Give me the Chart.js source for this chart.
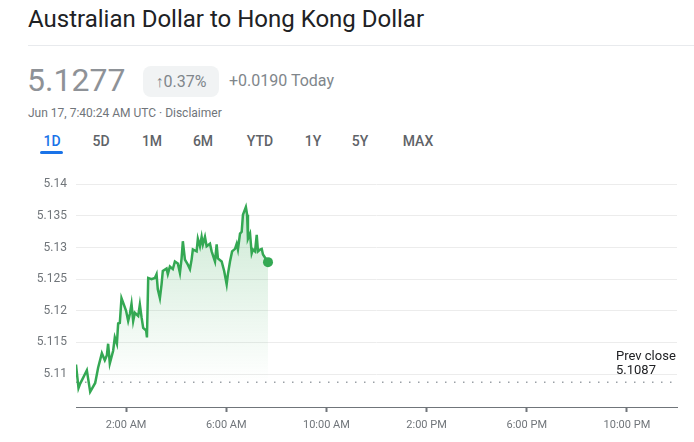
<!DOCTYPE html>
<html>
<head>
<meta charset="utf-8">
<script src="https://cdn.jsdelivr.net/npm/chart.js@4.4.1/dist/chart.umd.min.js"></script>
<style>
  body { margin: 0; background: #fff; font-family: Roboto, Arial, sans-serif; width: 694px; height: 442px; overflow: hidden; position: relative; }
  .title { position: absolute; left: 28px; top: 5px; font-size: 24px; color: #202124; white-space: nowrap; }
  .sep { position: absolute; left: 28px; right: 0; top: 45px; height: 1px; background: #e8eaed; }
  .price { position: absolute; left: 27px; top: 61px; font-size: 32px; color: #8e9297; }
  .badge { position: absolute; left: 143px; top: 66px; width: 76px; height: 31px; border-radius: 8px; background: #f1f3f4; color: #80868b; font-size: 16px; line-height: 31px; text-align: center; }
  .change { position: absolute; left: 229px; top: 71px; font-size: 16px; color: #80868b; }
  .stamp { position: absolute; left: 28px; top: 106px; font-size: 12px; color: #70757a; }
  .tab { position: absolute; top: 133px; font-size: 14px; font-weight: 500; color: #5f6368; transform: translateX(-50%); }
  .tab.on { color: #1a73e8; }
  .under { position: absolute; left: 40px; top: 151px; width: 23px; height: 3px; border-radius: 2px; background: #1a73e8; }
  #wrap { position: absolute; left: 0; top: 158px; }
</style>
</head>
<body>
<div class="title">Australian Dollar to Hong Kong Dollar</div>
<div class="sep"></div>
<div class="price">5.1277</div>
<div class="badge">↑0.37%</div>
<div class="change">+0.0190 Today</div>
<div class="stamp">Jun 17, 7:40:24 AM UTC · Disclaimer</div>
<div class="tab on" style="left:52px">1D</div>
<div class="tab" style="left:101px">5D</div>
<div class="tab" style="left:152px">1M</div>
<div class="tab" style="left:203px">6M</div>
<div class="tab" style="left:260px">YTD</div>
<div class="tab" style="left:313px">1Y</div>
<div class="tab" style="left:360px">5Y</div>
<div class="tab" style="left:418px">MAX</div>
<div class="under"></div>
<div id="wrap"><canvas id="rateChart" width="694" height="284"></canvas></div>

<script>
// minutes after midnight (UTC)
const times = [0, 6, 10, 17, 26, 34, 46, 53, 62, 69, 74, 77, 81, 89, 93, 98, 101, 105, 109, 113,
  120, 125, 129, 133, 137, 141, 149, 153, 157, 161, 168, 170, 173, 181, 189, 193, 196, 201, 205, 208,
  217, 220, 225, 232, 237, 244, 249, 253, 256, 261, 268, 273, 277, 280, 289, 292, 297, 301, 304, 309,
  313, 321, 325, 333, 337, 340, 349, 355, 361, 364, 369, 374, 381, 385, 388, 393, 397, 400, 407, 410,
  412, 417, 421, 424, 429, 433, 436, 441, 445, 448, 457, 460];
const rates = [5.1115, 5.1078, 5.1085, 5.1094, 5.1106, 5.1072, 5.1086, 5.1110, 5.1133, 5.1122,
  5.1130, 5.1148, 5.1117, 5.1137, 5.1158, 5.1148, 5.1180, 5.1181, 5.1220, 5.1213,
  5.1200, 5.1184, 5.1195, 5.1211, 5.1184, 5.1197, 5.1192, 5.1210, 5.1190, 5.1173,
  5.1169, 5.1158, 5.1252, 5.1250, 5.1252, 5.1258, 5.1234, 5.1220, 5.1242, 5.1263,
  5.1267, 5.1258, 5.1270, 5.1266, 5.1278, 5.1275, 5.1260, 5.1283, 5.1310, 5.1281,
  5.1273, 5.1266, 5.1281, 5.1297, 5.1294, 5.1314, 5.1302, 5.1317, 5.1305, 5.1317,
  5.1302, 5.1306, 5.1294, 5.1278, 5.1305, 5.1283, 5.1278, 5.1263, 5.1242, 5.1258,
  5.1278, 5.1294, 5.1298, 5.1306, 5.1297, 5.1322, 5.1325, 5.1352, 5.1364, 5.1352,
  5.1314, 5.1322, 5.1291, 5.1297, 5.1294, 5.1320, 5.1294, 5.1297, 5.1298, 5.1289,
  5.1280, 5.1277];
const prevClose = 5.1087;
const yTicks = [5.11, 5.115, 5.12, 5.125, 5.13, 5.135, 5.14];
const xTickMinutes = [120, 360, 600, 840, 1080, 1320];
const xTickLabels = ['2:00 AM', '6:00 AM', '10:00 AM', '2:00 PM', '6:00 PM', '10:00 PM'];

const green = '#34a853';

const prevCloseLabel = {
  id: 'prevCloseLabel',
  afterDatasetsDraw(chart) {
    const { ctx, chartArea, scales } = chart;
    const y = scales.y.getPixelForValue(prevClose);
    ctx.save();
    ctx.font = '13px Roboto';
    ctx.fillStyle = '#202124';
    ctx.textAlign = 'left';
    ctx.textBaseline = 'alphabetic';
    ctx.fillText('Prev close', chartArea.right - 61, y - 22);
    ctx.fillText(String(prevClose), chartArea.right - 61, y - 8);
    ctx.restore();
  }
};

new Chart(document.getElementById('rateChart'), {
  type: 'line',
  data: {
    datasets: [
      {
        data: times.map((t, i) => ({ x: t, y: rates[i] })),
        borderColor: green,
        borderWidth: 2.5,
        tension: 0,
        fill: 'start',
        backgroundColor: (c) => {
          const area = c.chart.chartArea;
          if (!area) return 'rgba(52,168,83,0.15)';
          const g = c.chart.ctx.createLinearGradient(0, area.top + 30, 0, area.bottom - 25);
          g.addColorStop(0, 'rgba(52,168,83,0.25)');
          g.addColorStop(1, 'rgba(52,168,83,0)');
          return g;
        },
        pointRadius: (c) => c.dataIndex === rates.length - 1 ? 5 : 0,
        pointBackgroundColor: green,
        pointBorderWidth: 0
      },
      {
        data: [{ x: 0, y: prevClose }, { x: 1440, y: prevClose }],
        borderColor: '#9aa0a6',
        borderWidth: 1.5,
        borderDash: [1.5, 7.5],
        pointRadius: 0,
        fill: false
      }
    ]
  },
  options: {
    responsive: false,
    animation: false,
    devicePixelRatio: 1,
    layout: { padding: { top: 0, right: 17, left: 0, bottom: 0 } },
    plugins: { legend: { display: false }, tooltip: { enabled: false } },
    scales: {
      x: {
        type: 'linear',
        min: 0,
        max: 1440,
        afterBuildTicks: (axis) => { axis.ticks = xTickMinutes.map(v => ({ value: v })); },
        afterFit: (axis) => { axis.height = 35; },
        ticks: {
          autoSkip: false,
          maxRotation: 0,
          padding: 7,
          color: '#70757a',
          font: { family: 'Roboto', size: 11 },
          callback: (v) => xTickLabels[xTickMinutes.indexOf(v)]
        },
        grid: { drawOnChartArea: false, drawTicks: true, tickLength: 5, tickWidth: 2, color: '#70757a' },
        border: { display: true, color: '#70757a', width: 1 }
      },
      y: {
        min: 5.1048,
        max: 5.1416,
        afterBuildTicks: (axis) => { axis.ticks = yTicks.map(v => ({ value: v })); },
        afterFit: (axis) => { axis.width = 76; },
        ticks: {
          padding: 9,
          color: '#70757a',
          font: { family: 'Roboto', size: 12 },
          callback: (v) => String(v)
        },
        grid: { drawTicks: false, color: '#ececec' },
        border: { display: false }
      }
    }
  },
  plugins: [prevCloseLabel]
});
</script>
</body>
</html>
